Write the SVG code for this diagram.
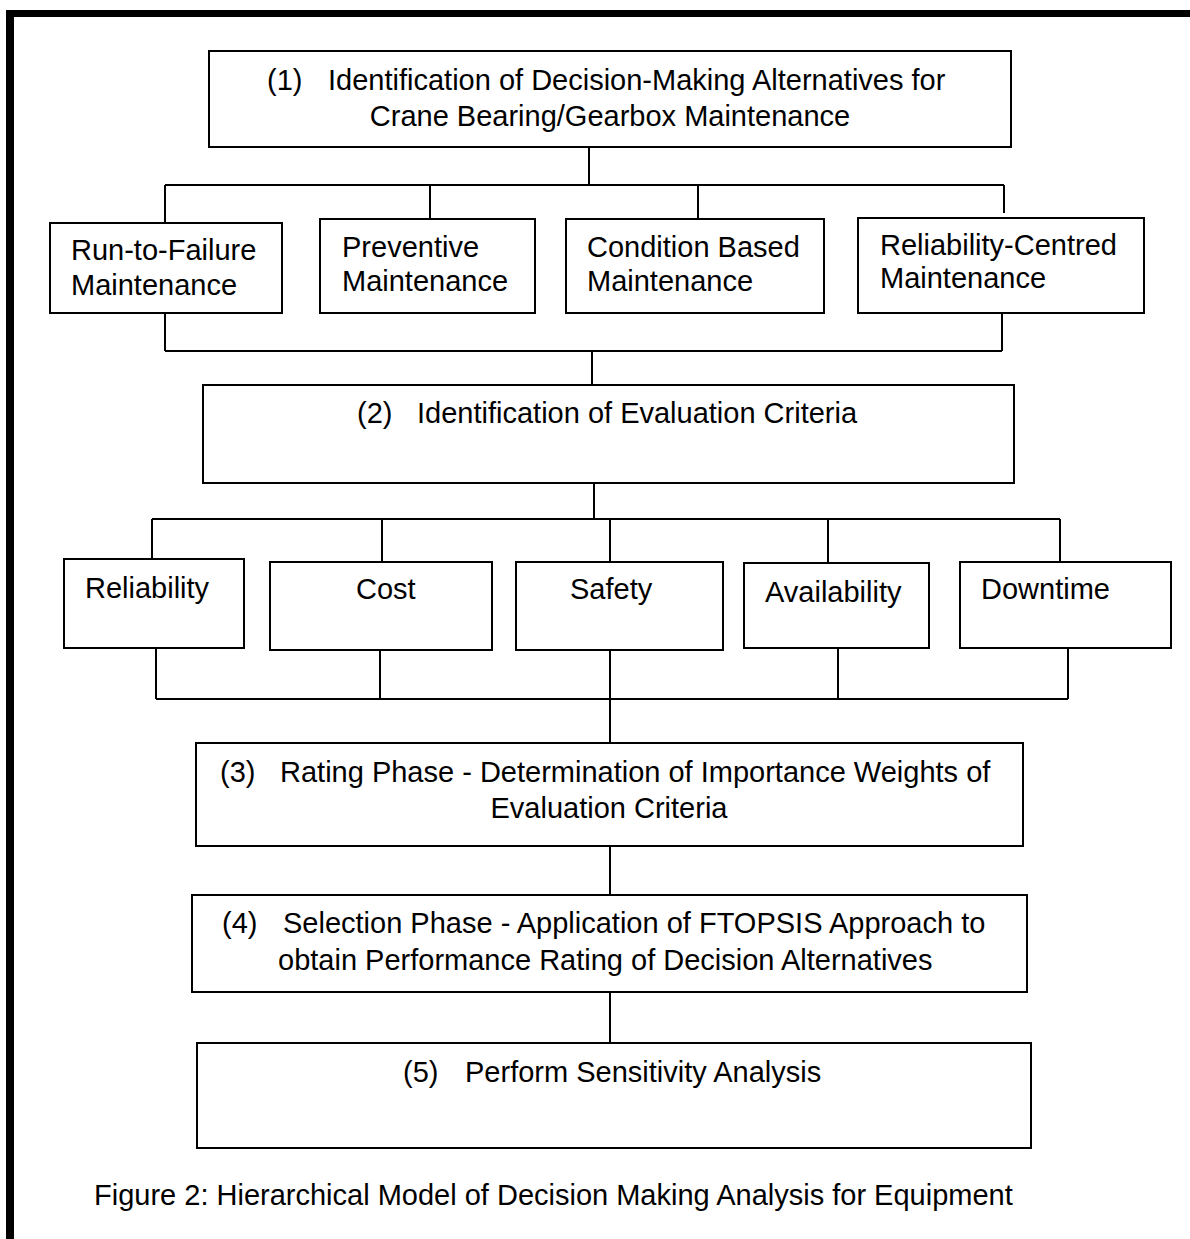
<svg xmlns="http://www.w3.org/2000/svg" width="1190" height="1239" viewBox="0 0 1190 1239">
<style>
.box{fill:#fff;stroke:#000;stroke-width:2}
.t{font-family:"Liberation Sans",Arial,sans-serif;font-size:29px;fill:#000}
.c{fill:none;stroke:#000;stroke-width:2}
</style>
<rect x="0" y="0" width="1190" height="1239" fill="#fff"/>
<g id="frame">
<rect x="6" y="10" width="1184" height="7" fill="#000"/>
<rect x="6" y="10" width="8" height="1229" fill="#000"/>
</g>
<g id="connectors" class="c">
<path d="M589,147 V185 M165,185 H1004 M165,185 V223 M430,185 V219 M698,185 V219 M1004,185 V213"/>
<path d="M165,313 V351 M1002,313 V351 M165,351 H1002 M592,351 V385"/>
<path d="M594,483 V519 M152,519 H1060 M152,519 V559 M382,519 V562 M610,519 V561 M828,519 V563 M1060,519 V562"/>
<path d="M156,648 V699 M380,650 V699 M838,648 V699 M1068,648 V699 M156,699 H1068 M610,650 V743"/>
<path d="M610,846 V895 M610,992 V1043"/>
</g>
<g id="node1">
<rect class="box" x="209" y="51" width="802" height="96"/>
<text class="t" y="90"><tspan x="267">(1)</tspan><tspan x="328">Identification of Decision-Making Alternatives for</tspan></text>
<text class="t" x="610" y="126" text-anchor="middle">Crane Bearing/Gearbox Maintenance</text>
</g>
<g id="rtf">
<rect class="box" x="50" y="223" width="232" height="90"/>
<text class="t" x="71" y="260">Run-to-Failure</text>
<text class="t" x="71" y="295">Maintenance</text>
</g>
<g id="pm">
<rect class="box" x="320" y="219" width="215" height="94"/>
<text class="t" x="342" y="257">Preventive</text>
<text class="t" x="342" y="291">Maintenance</text>
</g>
<g id="cbm">
<rect class="box" x="566" y="219" width="258" height="94"/>
<text class="t" x="587" y="257">Condition Based</text>
<text class="t" x="587" y="291">Maintenance</text>
</g>
<g id="rcm">
<rect class="box" x="858" y="218" width="286" height="95"/>
<text class="t" x="880" y="255">Reliability-Centred</text>
<text class="t" x="880" y="288">Maintenance</text>
</g>
<g id="node2">
<rect class="box" x="203" y="385" width="811" height="98"/>
<text class="t" y="423"><tspan x="357">(2)</tspan><tspan x="417">Identification of Evaluation Criteria</tspan></text>
</g>
<g id="reliability">
<rect class="box" x="64" y="559" width="180" height="89"/>
<text class="t" x="85" y="598">Reliability</text>
</g>
<g id="cost">
<rect class="box" x="270" y="562" width="222" height="88"/>
<text class="t" x="356" y="599">Cost</text>
</g>
<g id="safety">
<rect class="box" x="516" y="562" width="207" height="88"/>
<text class="t" x="570" y="599">Safety</text>
</g>
<g id="availability">
<rect class="box" x="744" y="563" width="185" height="85"/>
<text class="t" x="765" y="602">Availability</text>
</g>
<g id="downtime">
<rect class="box" x="960" y="562" width="211" height="86"/>
<text class="t" x="981" y="599">Downtime</text>
</g>
<g id="node3">
<rect class="box" x="196" y="743" width="827" height="103"/>
<text class="t" y="782"><tspan x="220">(3)</tspan><tspan x="280">Rating Phase - Determination of Importance Weights of</tspan></text>
<text class="t" x="609" y="818" text-anchor="middle">Evaluation Criteria</text>
</g>
<g id="node4">
<rect class="box" x="192" y="895" width="835" height="97"/>
<text class="t" y="933"><tspan x="222">(4)</tspan><tspan x="283">Selection Phase - Application of FTOPSIS Approach to</tspan></text>
<text class="t" x="278" y="970">obtain Performance Rating of Decision Alternatives</text>
</g>
<g id="node5">
<rect class="box" x="197" y="1043" width="834" height="105"/>
<text class="t" y="1082"><tspan x="403">(5)</tspan><tspan x="465">Perform Sensitivity Analysis</tspan></text>
</g>
<g id="caption">
<text class="t" x="94" y="1205">Figure 2: Hierarchical Model of Decision Making Analysis for Equipment</text>
</g>
</svg>
